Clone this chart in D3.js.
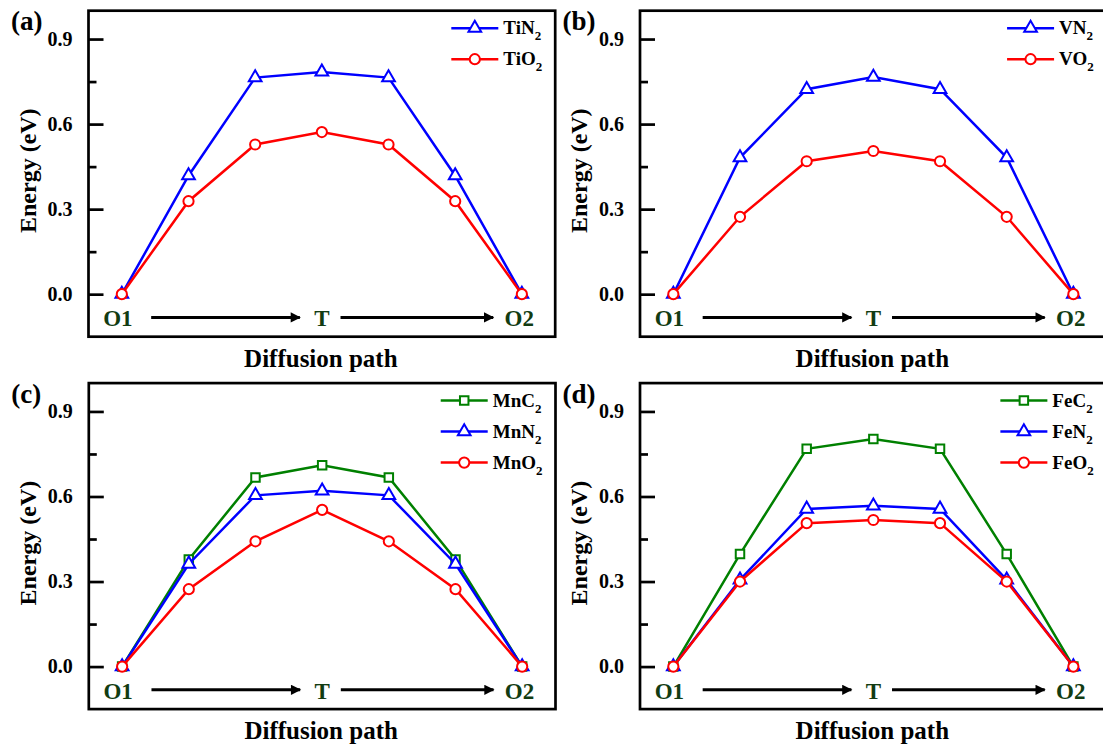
<!DOCTYPE html>
<html>
<head>
<meta charset="utf-8">
<script src="https://cdn.jsdelivr.net/npm/d3@7"></script>
<style>
  body{margin:0;background:#fff;}
  svg text{font-family:"Liberation Serif","Times New Roman",serif;font-weight:bold;}
</style>
</head>
<body>
<div id="chart"></div>
<script>
// ---- data ----------------------------------------------------------
var steps=[0,1,2,3,4,5,6];
var pathLabels=['O1','T','O2'];
var pathLabelPos=[-0.06,3,5.96];
var yTicks=[0,0.3,0.6,0.9];
var yMinor=[0.15,0.45,0.75];

var tiN2=[0,0.418,0.764,0.784,0.764,0.418,0];
var tiO2=[0,0.328,0.528,0.572,0.528,0.328,0];
var vN2=[0,0.482,0.723,0.766,0.723,0.482,0];
var vO2=[0,0.273,0.469,0.505,0.469,0.273,0];
var mnC2=[0,0.378,0.667,0.71,0.667,0.378,0];
var mnN2=[0,0.362,0.604,0.62,0.604,0.362,0];
var mnO2=[0,0.273,0.442,0.553,0.442,0.273,0];
var feC2=[0,0.397,0.768,0.803,0.768,0.397,0];
var feN2=[0,0.306,0.556,0.567,0.556,0.306,0];
var feO2=[0,0.3,0.506,0.517,0.506,0.3,0];

var green='#008000', blue='#0000ff', red='#ff0000';

var panels=[
  {tag:'(a)',ox:88.5,oy:10.7,series:[
    {name:'TiN',sub:'2',values:tiN2,color:blue,shape:'tri'},
    {name:'TiO',sub:'2',values:tiO2,color:red,shape:'circle'}]},
  {tag:'(b)',ox:640,oy:10.7,series:[
    {name:'VN',sub:'2',values:vN2,color:blue,shape:'tri'},
    {name:'VO',sub:'2',values:vO2,color:red,shape:'circle'}]},
  {tag:'(c)',ox:88.8,oy:383.1,series:[
    {name:'MnC',sub:'2',values:mnC2,color:green,shape:'square'},
    {name:'MnN',sub:'2',values:mnN2,color:blue,shape:'tri'},
    {name:'MnO',sub:'2',values:mnO2,color:red,shape:'circle'}]},
  {tag:'(d)',ox:640,oy:383.1,series:[
    {name:'FeC',sub:'2',values:feC2,color:green,shape:'square'},
    {name:'FeN',sub:'2',values:feN2,color:blue,shape:'tri'},
    {name:'FeO',sub:'2',values:feO2,color:red,shape:'circle'}]}
];

//----------------------------------------------------------------
var width=1103, height=752,
    W=466.7, H=326;

var svg=d3.select('#chart').append('svg')
    .attr('width',width)
    .attr('height',height);

svg.append('defs').append('marker')
    .attr('id','arrow')
    .attr('viewBox','0 0 10 10')
    .attr('refX',9).attr('refY',5)
    .attr('markerWidth',4.2).attr('markerHeight',3.4)
    .attr('markerUnits','strokeWidth')
    .attr('orient','auto')
  .append('path')
    .attr('d','M0,0L10,5L0,10Z')
    .attr('fill','#000');

var xScale=d3.scaleLinear().domain([-0.5,6.5]).range([0,W]);
var yScale=d3.scaleLinear().domain([-0.15,1.0]).range([H,0]);

function symbolFor(shape){
    if(shape==='tri') return d3.symbol().type(d3.symbolTriangle).size(70)();
    if(shape==='square') return d3.symbol().type(d3.symbolSquare).size(72)();
    return d3.symbol().type(d3.symbolCircle).size(Math.PI*26)();
}

panels.forEach(function(p){
    var g=svg.append('g').attr('transform','translate('+p.ox+','+p.oy+')');

    // axes
    var major=g.append('g')
        .call(d3.axisLeft(yScale).tickValues(yTicks).tickSize(-15)
            .tickPadding(16).tickFormat(d3.format('.1f')));
    major.select('.domain').remove();
    major.selectAll('line').attr('stroke','#000').attr('stroke-width',2.7);
    major.selectAll('text').attr('font-size',20).attr('fill','#000')
        .style('font-family','"Liberation Serif",serif').style('font-weight','bold');

    var minor=g.append('g')
        .call(d3.axisLeft(yScale).tickValues(yMinor).tickSize(-8).tickFormat(''));
    minor.select('.domain').remove();
    minor.selectAll('line').attr('stroke','#000').attr('stroke-width',2.7);

    g.append('rect')
        .attr('width',W).attr('height',H)
        .attr('fill','none').attr('stroke','#000').attr('stroke-width',2.7);

    // path labels and arrows
    g.selectAll('text.plab').data(pathLabels).enter().append('text')
        .attr('class','plab')
        .attr('x',function(d,i){return xScale(pathLabelPos[i]);})
        .attr('y',yScale(-0.113))
        .attr('text-anchor','middle')
        .attr('font-size',23)
        .attr('fill','#123c12')
        .text(function(d){return d;});

    g.selectAll('line.arr').data([[0.44,2.67],[3.28,5.57]]).enter().append('line')
        .attr('class','arr')
        .attr('x1',function(d){return xScale(d[0]);})
        .attr('x2',function(d){return xScale(d[1]);})
        .attr('y1',yScale(-0.082)).attr('y2',yScale(-0.082))
        .attr('stroke','#000').attr('stroke-width',3)
        .attr('marker-end','url(#arrow)');

    // series
    var line=d3.line()
        .x(function(d,i){return xScale(steps[i]);})
        .y(function(d){return yScale(d);});

    p.series.forEach(function(s){
        g.append('path')
            .attr('d',line(s.values))
            .attr('fill','none')
            .attr('stroke',s.color)
            .attr('stroke-width',2.5);
        g.selectAll(null).data(s.values).enter().append('path')
            .attr('d',symbolFor(s.shape))
            .attr('transform',function(d,i){return 'translate('+xScale(steps[i])+','+yScale(d)+')';})
            .attr('fill','#fff')
            .attr('stroke',s.color)
            .attr('stroke-width',2);
    });

    // legend
    var leg=g.append('g');
    var texts=leg.selectAll('text').data(p.series).enter().append('text')
        .attr('y',function(d,i){return 17.5+i*31+6;})
        .attr('font-size',19)
        .attr('fill','#000');
    texts.append('tspan').text(function(d){return d.name;});
    texts.append('tspan').attr('font-size',13).attr('dy',6).text(function(d){return d.sub;});
    var maxW=d3.max(texts.nodes(),function(n){return n.getComputedTextLength();});
    var tx=W-13-maxW;
    texts.attr('x',tx);
    p.series.forEach(function(s,i){
        var yy=17.5+i*31;
        leg.append('line')
            .attr('x1',tx-52).attr('x2',tx-5)
            .attr('y1',yy).attr('y2',yy)
            .attr('stroke',s.color).attr('stroke-width',2.5);
        leg.append('path')
            .attr('d',symbolFor(s.shape))
            .attr('transform','translate('+(tx-28.5)+','+yy+')')
            .attr('fill','#fff').attr('stroke',s.color).attr('stroke-width',2);
    });

    // titles
    g.append('text')
        .attr('x',W/2-1).attr('y',H+30)
        .attr('text-anchor','middle')
        .attr('font-size',25)
        .text('Diffusion path');

    g.append('text')
        .attr('transform','translate(-61,'+(H/2-3)+') rotate(-90)')
        .attr('text-anchor','middle')
        .attr('dominant-baseline','central')
        .attr('font-size',24)
        .text('Energy (eV)');

    g.append('text')
        .attr('x',-77.5).attr('y',19.5)
        .attr('font-size',27)
        .text(p.tag);
});
</script>
</body>
</html>
